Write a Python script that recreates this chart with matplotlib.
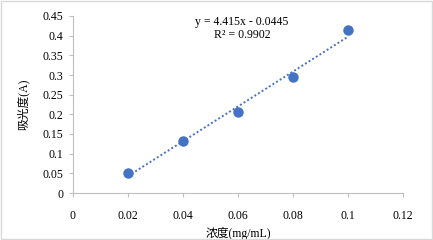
import numpy as np
import matplotlib.pyplot as plt
from matplotlib.patches import Rectangle

# datos
conc = [0.02, 0.04, 0.06, 0.08, 0.10]
absorb = [0.052, 0.133, 0.207, 0.295, 0.414]
xticks = [0, 0.02, 0.04, 0.06, 0.08, 0.1, 0.12]
yticks = [0, 0.05, 0.1, 0.15, 0.2, 0.25, 0.3, 0.35, 0.4, 0.45]
eq_text = "y = 4.415x - 0.0445\nR² = 0.9902"

plt.rcParams['font.family'] = ['Liberation Serif', 'Noto Sans CJK SC']
azul = '#4472C4'
gris = '#BFBFBF'

fig = plt.figure(figsize=(4.33, 2.4), dpi=100)
ax = fig.add_axes([73 / 433, 1 - 193 / 240, 330 / 433, 177 / 240])

# línea de tendencia (ajuste lineal)
m, b = np.polyfit(conc, absorb, 1)
xs = np.array([conc[0], conc[-1]])
ax.plot(xs, m * xs + b, linestyle=(0, (1, 1.2)), color=azul, lw=1.4)
ax.plot(conc, absorb, 'o', color=azul, ms=6.5, mec=azul)

ax.set_xlim(0, 0.12)
ax.set_ylim(0, 0.45)
ax.set_xticks(xticks)
ax.set_yticks(yticks)
ax.set_xticklabels([f"{t:g}" for t in xticks])
ax.set_yticklabels([f"{t:g}" for t in yticks])
ax.tick_params(labelsize=8.5, color=gris, length=3, width=0.8)
ax.tick_params(axis='x', pad=9)
ax.tick_params(axis='y', pad=4)

for s in ['top', 'right']:
    ax.spines[s].set_visible(False)
for s in ['left', 'bottom']:
    ax.spines[s].set_color(gris)
    ax.spines[s].set_linewidth(0.8)

ax.text(0.0615, 0.418, eq_text, ha='center', va='center', fontsize=8.5, linespacing=1.05)

ax.set_xlabel("浓度(mg/mL)", fontsize=8.5, labelpad=4)
ax.set_ylabel("吸光度(A)", fontsize=8.5, labelpad=9)

# marco exterior
fig.patches.append(Rectangle((0.002, 0.004), 0.995, 0.99, transform=fig.transFigure,
                             fill=False, edgecolor='#D9D9D9', lw=1))

fig.savefig('out.png', dpi=100)
